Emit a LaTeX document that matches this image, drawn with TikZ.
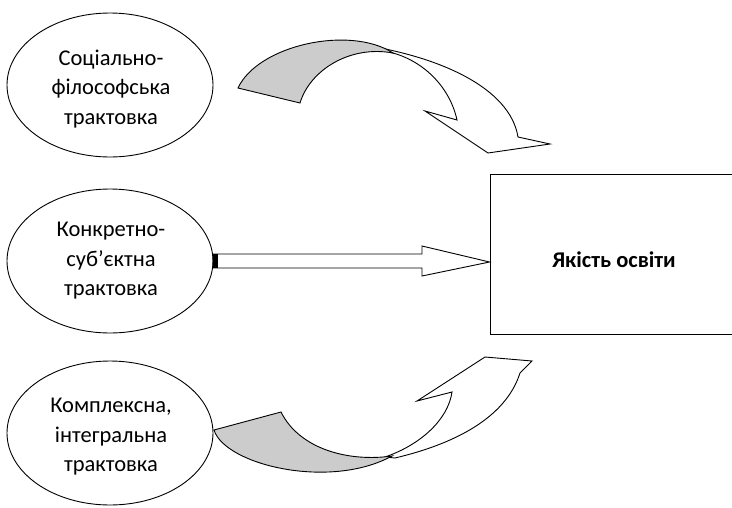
\documentclass[tikz,border=0pt]{standalone}
\usetikzlibrary{shapes.geometric}
\usepackage{fontspec}
\setmainfont{Carlito}
\begin{document}
\begin{tikzpicture}[x=1pt,y=-1pt,
  oval/.style={draw, line width=0.9pt, ellipse, minimum width=206pt, minimum height=144pt, inner sep=0pt},
  lbl/.style={align=center, font=\fontsize{22.5}{29.5}\selectfont},
  ribbon/.style={draw, line width=0.9pt, fill=white, line join=miter},
  back/.style={draw, line width=0.9pt, fill=black!20}]
\useasboundingbox (0,0) rectangle (732,507);
\node[oval] (e1) at (110,85) {};
\node[oval] (e2) at (110,261) {};
\node[oval] (e3) at (110,433) {};
\node[lbl] (t1) at (111,89) {Соціально-\\філософська\\трактовка};
\node[lbl] (t2) at (111,261) {Конкретно-\\суб’єктна\\трактовка};
\node[lbl] (t3) at (111,437) {Комплексна,\\інтегральна\\трактовка};
\node[draw, line width=0.9pt, minimum width=248pt, minimum height=160pt, inner sep=0pt] (box) at (614,254) {};
\node[font=\fontsize{22.5}{27}\selectfont\bfseries] (bt) at (614,260) {Якість освіти};
% straight arrow
\coordinate (s0) at (213,262);
\coordinate (tip) at (box.west |- s0);
\draw[line width=0.9pt, fill=white] (213,254) -- (422,254) -- (422,246) -- (tip) -- (422,276) -- (422,268) -- (213,268) -- cycle;
\fill (213,254) rectangle (218,268);
% top curved arrow
\path[ribbon] (357,44) .. controls (440,56) and (510,88) .. (518,137) -- (550,144) -- (488,153) -- (425,111) -- (457,120) .. controls (450,88) and (425,62) .. (393,53) -- cycle;
\path[back] (238,88) .. controls (258,45) and (350,25) .. (393,53) .. controls (350,45) and (310,70) .. (300,103) -- cycle;
% bottom curved arrow
\path[ribbon] (385,457) .. controls (420,445) and (448,420) .. (452,392) -- (417,401) -- (485,357) -- (532,361) -- (520,373) .. controls (505,420) and (450,445) .. (395,458) -- cycle;
\path[back] (214,430) .. controls (225,465) and (330,490) .. (392,456) .. controls (350,462) and (300,450) .. (281,412) -- cycle;
\end{tikzpicture}
\end{document}
